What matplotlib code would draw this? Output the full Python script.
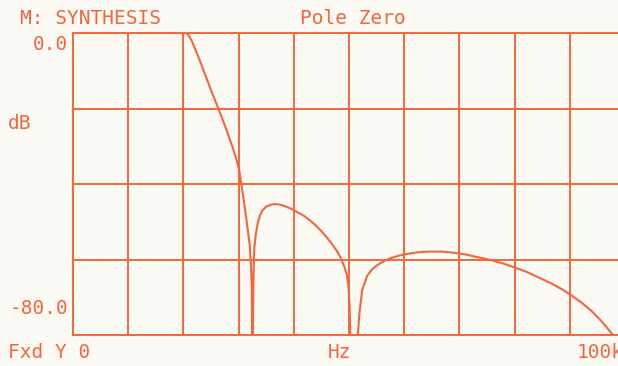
import matplotlib.pyplot as plt

# magnitude response (kHz, dB)
freq_khz = [0.0, 20.0, 20.6, 21.0, 21.5, 22.0, 22.6, 23.2, 23.9, 24.6, 25.4,
            26.3, 27.2, 28.1, 28.9, 29.6, 30.1, 30.5, 31.0, 31.5, 32.0, 32.25,
            32.4, 32.45, 32.5, 32.6, 32.7, 32.85, 33.1, 33.4, 33.8, 34.3, 35.0,
            35.8, 36.6, 37.6, 38.6, 39.6, 40.7, 41.8, 42.9, 44.0, 45.0, 46.0,
            46.9, 47.8, 48.5, 49.1, 49.6, 49.9, 50.1, 50.25, 50.9, 51.6, 51.9,
            52.4, 53.3, 54.2, 55.2, 56.4, 57.6, 59.0, 60.6, 62.4, 64.6, 66.8,
            69.0, 71.2, 73.4, 75.6, 77.8, 80.0, 82.2, 84.4, 86.6, 88.6, 90.4,
            92.2, 93.9, 95.4, 96.7, 98.0]
level_db = [0.0, 0.0, -0.1, -0.8, -2.0, -3.8, -5.9, -8.2, -10.9, -13.6, -16.6,
            -19.9, -23.3, -26.9, -30.2, -33.4, -36.3, -40.0, -45.0, -50.3, -56.0, -61.5,
            -68.0, -80.0, -120.0, -80.0, -64.0, -57.0, -53.5, -50.8, -48.6, -47.0, -46.0,
            -45.5, -45.3, -45.5, -46.0, -46.6, -47.5, -48.4, -49.6, -51.0, -52.5, -54.2,
            -55.9, -57.7, -59.6, -61.7, -64.0, -67.0, -72.0, -80.0, -120.0, -80.0, -74.0,
            -68.0, -64.3, -62.6, -61.4, -60.4, -59.6, -59.0, -58.5, -58.1, -57.9, -57.9,
            -58.2, -58.7, -59.4, -60.1, -61.0, -62.1, -63.3, -64.8, -66.3, -67.9, -69.6,
            -71.5, -73.6, -75.8, -78.0, -80.3]

x_ticks = [0, 10, 20, 30, 40, 50, 60, 70, 80, 90, 100]
y_ticks = [-80, -60, -40, -20, 0]

ink = '#F4663C'
paper = '#FCFAF5'
W, H = 618, 366

fig = plt.figure(figsize=(W / 100, H / 100), dpi=100, facecolor=paper)
ax = fig.add_axes([73 / W, 1 - 335 / H, 552 / W, 302 / H], facecolor=paper)

ax.plot(freq_khz, level_db, color=ink, lw=1.5, solid_joinstyle='round')

ax.set_xlim(0, 100)
ax.set_ylim(-80, 0)
ax.set_xticks(x_ticks)
ax.set_yticks(y_ticks)
ax.grid(True, color=ink, lw=1.4)
ax.tick_params(length=0, labelbottom=False, labelleft=False)
for s in ax.spines.values():
    s.set_color(ink)
    s.set_linewidth(1.4)

font = dict(family='DejaVu Sans Mono', size=14, color=ink)


def label(x, y, s, ha='left'):
    fig.text(x / W, 1 - y / H, s, ha=ha, va='center', **font)


label(20, 19, 'M: SYNTHESIS')
label(300, 19, 'Pole Zero')
label(68, 44, '0.0', ha='right')
label(8, 124, 'dB')
label(68, 308, '-80.0', ha='right')
label(8, 352, 'Fxd Y 0')
label(328, 352, 'Hz')
label(577, 352, '100k')

fig.savefig('out.png', dpi=100, facecolor=paper)
